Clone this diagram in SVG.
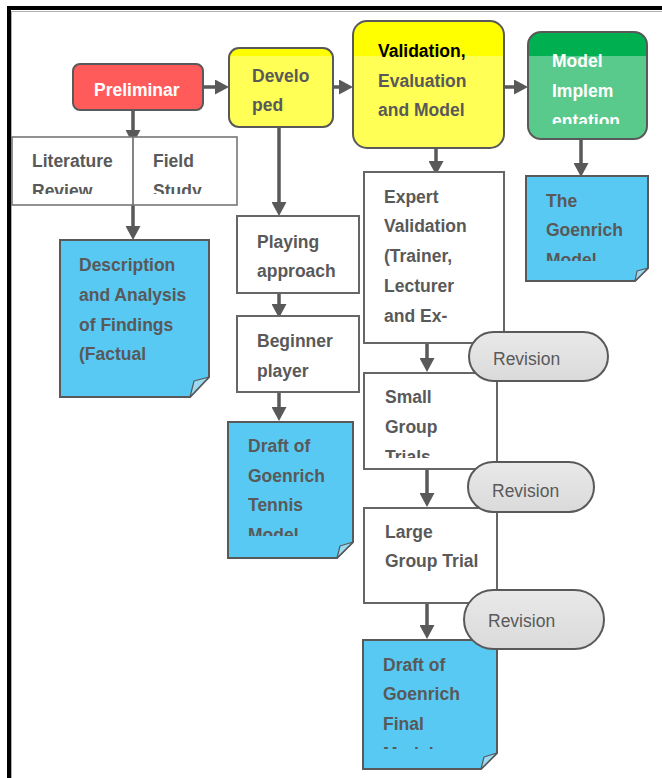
<svg xmlns="http://www.w3.org/2000/svg" width="662" height="778" viewBox="0 0 662 778">
<style>
.t{font-family:"Liberation Sans",Arial,sans-serif;font-size:17.5px;font-weight:bold;fill:#595959}
.w{fill:#ffffff}
.k{fill:#000000}
.rv{font-family:"Liberation Sans",Arial,sans-serif;font-size:17.5px;font-weight:normal;fill:#595959}
.box{fill:#ffffff;stroke:#666666;stroke-width:2}
.cbox{stroke:#595959;stroke-width:2}
.note{fill:#57C9F3;stroke:#595959;stroke-width:2}
.fold{fill:#9ADAF3;stroke:#595959;stroke-width:1.2;stroke-linejoin:round}
.pill{fill:url(#pg);stroke:#595959;stroke-width:2}
.con{stroke:#595959;stroke-width:3.5;fill:none}
</style>
<defs>
<marker id="ah" markerUnits="userSpaceOnUse" markerWidth="15" markerHeight="15" refX="3" refY="7.5" orient="auto">
<path d="M0,0 L14,7.5 L0,15 z" fill="#595959"/>
</marker>
<linearGradient id="pg" x1="0" y1="0" x2="0" y2="1">
<stop offset="0" stop-color="#E9E9E9"/>
<stop offset="1" stop-color="#DADADA"/>
</linearGradient>
<clipPath id="cDev"><rect x="229" y="48" width="104" height="79" rx="10"/></clipPath>
<clipPath id="cVal"><rect x="353" y="21" width="151" height="127" rx="14"/></clipPath>
<clipPath id="cImp"><rect x="528" y="32" width="119" height="107" rx="13"/></clipPath>
<clipPath id="tLit"><rect x="12" y="137" width="225" height="57"/></clipPath>
<clipPath id="tImp"><rect x="528" y="32" width="119" height="92"/></clipPath>
<clipPath id="tGoe"><rect x="526" y="176" width="122" height="85"/></clipPath>
<clipPath id="tDr1"><rect x="228" y="422" width="125" height="114"/></clipPath>
<clipPath id="tSm"><rect x="364" y="373" width="133" height="85"/></clipPath>
<clipPath id="tFin"><rect x="363" y="640" width="134" height="109"/></clipPath>
</defs>
<rect x="0" y="0" width="662" height="778" fill="#ffffff"/>
<g id="frame">
<rect x="7" y="6" width="655" height="4" fill="#000000"/>
<rect x="7" y="6" width="4" height="772" fill="#000000"/>
<line x1="11" y1="11.5" x2="662" y2="11.5" stroke="#b0b0b0" stroke-width="1"/>
<line x1="11.5" y1="11" x2="11.5" y2="778" stroke="#b0b0b0" stroke-width="1"/>
</g>

<g id="connectors">
<line class="con" x1="203" y1="87" x2="218" y2="87" marker-end="url(#ah)"/>
<line class="con" x1="333" y1="87" x2="342" y2="87" marker-end="url(#ah)"/>
<line class="con" x1="504" y1="87" x2="517" y2="87" marker-end="url(#ah)"/>
<line class="con" x1="133" y1="110" x2="133" y2="133" marker-end="url(#ah)"/>
<line class="con" x1="133" y1="205" x2="133" y2="229" marker-end="url(#ah)"/>
<line class="con" x1="279" y1="127" x2="279" y2="205" marker-end="url(#ah)"/>
<line class="con" x1="279" y1="293" x2="279" y2="307" marker-end="url(#ah)"/>
<line class="con" x1="279" y1="392" x2="279" y2="410" marker-end="url(#ah)"/>
<line class="con" x1="436" y1="148" x2="436" y2="164" marker-end="url(#ah)"/>
<line class="con" x1="581" y1="139" x2="581" y2="166" marker-end="url(#ah)"/>
<line class="con" x1="427" y1="343" x2="427" y2="361" marker-end="url(#ah)"/>
<line class="con" x1="427" y1="469" x2="427" y2="496" marker-end="url(#ah)"/>
<line class="con" x1="427" y1="603" x2="427" y2="628" marker-end="url(#ah)"/>
</g>

<g id="preliminar">
<rect class="cbox" x="73" y="64" width="130" height="46" rx="7" fill="#FF5B5B"/>
<text class="t w" x="94" y="96">Preliminar</text>
</g>

<g id="developed">
<rect x="229" y="48" width="104" height="79" rx="10" fill="#FFFF55"/>
<rect x="229" y="48" width="104" height="8" fill="#FFFF00" clip-path="url(#cDev)"/>
<rect class="cbox" x="229" y="48" width="104" height="79" rx="10" fill="none"/>
<text class="t" x="252" y="82">Develo</text>
<text class="t" x="252" y="111">ped</text>
</g>

<g id="validation">
<rect x="353" y="21" width="151" height="127" rx="14" fill="#FFFF55"/>
<rect x="353" y="21" width="151" height="35" fill="#FFFF00" clip-path="url(#cVal)"/>
<rect class="cbox" x="353" y="21" width="151" height="127" rx="14" fill="none"/>
<text class="t k" x="378" y="57">Validation,</text>
<text class="t" x="378" y="87">Evaluation</text>
<text class="t" x="378" y="116">and Model</text>
</g>

<g id="implementation">
<rect x="528" y="32" width="119" height="107" rx="13" fill="#5AC98C"/>
<rect x="528" y="32" width="119" height="24" fill="#00B050" clip-path="url(#cImp)"/>
<rect class="cbox" x="528" y="32" width="119" height="107" rx="13" fill="none"/>
<g clip-path="url(#tImp)">
<text class="t w" x="552" y="67">Model</text>
<text class="t w" x="552" y="97">Implem</text>
<text class="t w" x="552" y="127">entation</text>
</g>
</g>

<g id="literature-field">
<rect x="12" y="137" width="225" height="68" fill="#ffffff" stroke="#777777" stroke-width="1.6"/>
<line x1="133" y1="137" x2="133" y2="205" stroke="#777777" stroke-width="1.8"/>
<g clip-path="url(#tLit)">
<text class="t" x="32" y="167">Literature</text>
<text class="t" x="32" y="197">Review</text>
<text class="t" x="153" y="167">Field</text>
<text class="t" x="153" y="197">Study</text>
</g>
</g>

<g id="description">
<path class="note" d="M60,240 H209 V377 L190,397 H60 Z"/>
<path class="fold" d="M190,397 L209,377 L194,381 Z"/>
<text class="t" x="79" y="271">Description</text>
<text class="t" x="79" y="301">and Analysis</text>
<text class="t" x="79" y="331">of Findings</text>
<text class="t" x="79" y="360">(Factual</text>
</g>

<g id="playing">
<rect class="box" x="237" y="216" width="122" height="77"/>
<text class="t" x="257" y="248">Playing</text>
<text class="t" x="257" y="277">approach</text>
</g>

<g id="beginner">
<rect class="box" x="237" y="316" width="122" height="76"/>
<text class="t" x="257" y="347">Beginner</text>
<text class="t" x="257" y="377">player</text>
</g>

<g id="draft-tennis">
<path class="note" d="M228,422 H353 V542 L337,558 H228 Z"/>
<path class="fold" d="M337,558 L353,542 L340,546 Z"/>
<g clip-path="url(#tDr1)">
<text class="t" x="248" y="452">Draft of</text>
<text class="t" x="248" y="482">Goenrich</text>
<text class="t" x="248" y="511">Tennis</text>
<text class="t" x="248" y="541">Model</text>
</g>
</g>

<g id="expert">
<rect class="box" x="364" y="172" width="140" height="171"/>
<text class="t" x="384" y="203">Expert</text>
<text class="t" x="384" y="232">Validation</text>
<text class="t" x="384" y="262">(Trainer,</text>
<text class="t" x="384" y="292">Lecturer</text>
<text class="t" x="384" y="322">and Ex-</text>
</g>

<g id="goenrich-model">
<path class="note" d="M526,176 H648 V268 L635,281 H526 Z"/>
<path class="fold" d="M635,281 L648,268 L637,271 Z"/>
<g clip-path="url(#tGoe)">
<text class="t" x="546" y="207">The</text>
<text class="t" x="546" y="236">Goenrich</text>
<text class="t" x="546" y="266">Model</text>
</g>
</g>

<g id="small-group">
<rect class="box" x="364" y="373" width="133" height="96"/>
<g clip-path="url(#tSm)">
<text class="t" x="385" y="403">Small</text>
<text class="t" x="385" y="433">Group</text>
<text class="t" x="385" y="463">Trials</text>
</g>
</g>

<g id="large-group">
<rect class="box" x="364" y="508" width="133" height="95"/>
<text class="t" x="385" y="538">Large</text>
<text class="t" x="385" y="567">Group Trial</text>
</g>

<g id="final-draft">
<path class="note" d="M363,640 H497 V753 L481,769 H363 Z"/>
<path class="fold" d="M481,769 L497,753 L484,757 Z"/>
<g clip-path="url(#tFin)">
<text class="t" x="383" y="671">Draft of</text>
<text class="t" x="383" y="700">Goenrich</text>
<text class="t" x="383" y="730">Final</text>
<text class="t" x="383" y="760">Model</text>
</g>
</g>

<g id="revision-1">
<rect class="pill" x="469" y="332" width="139" height="49" rx="24.5"/>
<text class="rv" x="493" y="365">Revision</text>
</g>
<g id="revision-2">
<rect class="pill" x="468" y="462" width="126" height="50" rx="25"/>
<text class="rv" x="492" y="497">Revision</text>
</g>
<g id="revision-3">
<rect class="pill" x="464" y="590" width="140" height="59" rx="29.5"/>
<text class="rv" x="488" y="627">Revision</text>
</g>
</svg>
